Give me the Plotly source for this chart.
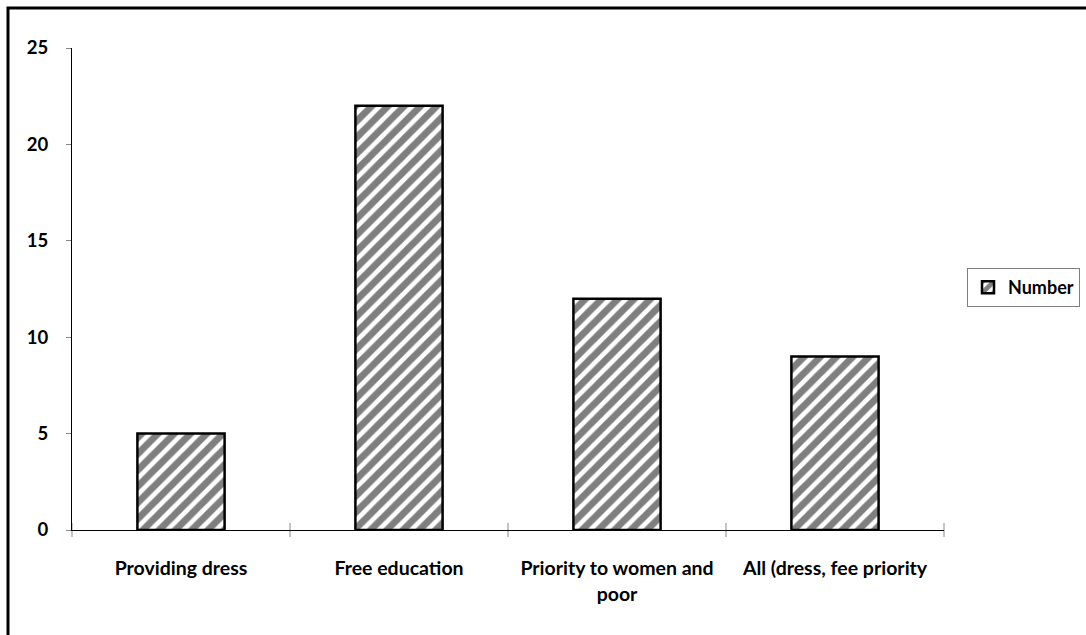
import plotly.graph_objects as go

categories = ["Providing dress", "Free education", "Priority to women and<br>poor", "All (dress, fee priority"]
values = [5, 22, 12, 9]
series_name = "Number"
y_ticks = [0, 5, 10, 15, 20, 25]

W, H = 1086, 635
L, R, T, B = 72, 142, 48, 105
plot_w = W - L - R
plot_h = H - T - B

FAMILY = "Lato, Open Sans, sans-serif"
font = dict(family=FAMILY, size=18, color="black")

fig = go.Figure()
fig.add_trace(go.Bar(
    x=categories,
    y=values,
    name=series_name,
    width=0.4,
    marker=dict(
        color="white",
        line=dict(color="black", width=2.5),
        pattern=dict(shape="/", fgcolor="black", bgcolor="white", size=11.5, solidity=0.6, fillmode="overlay"),
    ),
    showlegend=True,
))

# outer frame around the chart, running off the right and bottom edges
def px_x(p):
    return (p - L) / plot_w

def px_y(p):
    return 1 - (p - T) / plot_h

fig.add_shape(type="rect", xref="paper", yref="paper",
              x0=px_x(8), x1=px_x(W + 20), y0=px_y(H + 20), y1=px_y(8),
              line=dict(color="black", width=3), fillcolor="rgba(0,0,0,0)", layer="above")

fig.update_layout(
    width=W, height=H,
    margin=dict(l=L, r=R, t=T, b=B, autoexpand=False),
    paper_bgcolor="white",
    plot_bgcolor="white",
    font=font,
    bargap=0.6,
    legend=dict(
        x=px_x(967), y=px_y(268), xanchor="left", yanchor="top",
        bordercolor="#7f7f7f", borderwidth=1,
        font=dict(family=FAMILY, size=18, color="black", weight="bold"),
        itemwidth=30,
    ),
    xaxis=dict(
        showline=True, linecolor="black", linewidth=1,
        ticks="", tickfont=dict(weight="bold", size=19.5),
        ticklabelstandoff=21,
        showgrid=False,
    ),
    yaxis=dict(
        range=[0, 25], tickvals=y_ticks,
        showline=True, linecolor="black", linewidth=1,
        ticks="outside", ticklen=5, tickcolor="#888888",
        tickfont=dict(weight="bold", size=18.5),
        ticklabelstandoff=14,
        showgrid=False, zeroline=False,
    ),
)

# category boundary ticks on the x axis
fig.add_trace(go.Scatter(
    x=[-0.5, 0.5, 1.5, 2.5, 3.5], y=[0] * 5, xaxis="x2", mode="markers",
    marker=dict(symbol="line-ns", size=10, line=dict(color="#888888", width=1)),
    showlegend=False, hoverinfo="skip", cliponaxis=False,
))
fig.update_layout(xaxis2=dict(overlaying="x", range=[-0.5, 3.5], visible=False))

fig.write_html("out.html")
